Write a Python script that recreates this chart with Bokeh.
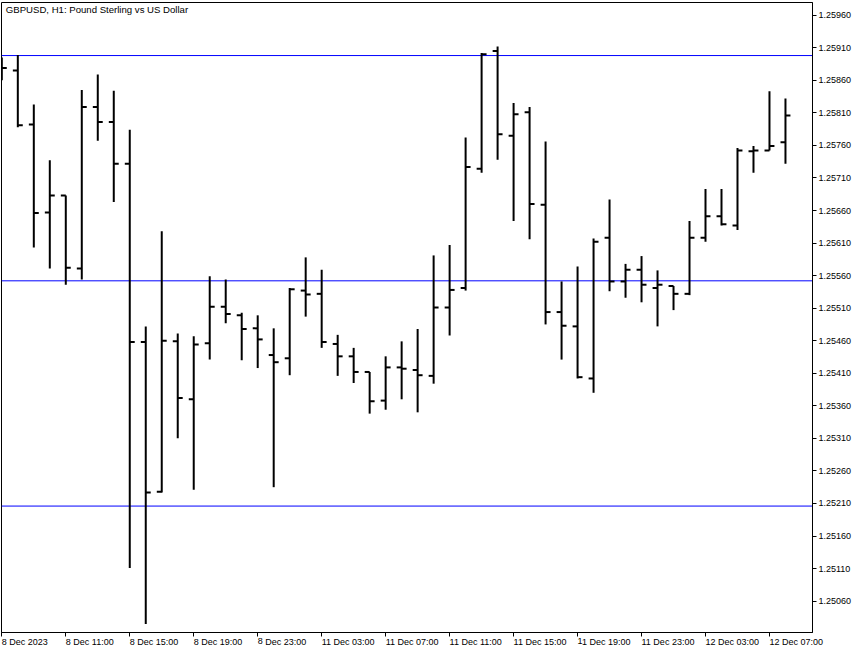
from bokeh.plotting import figure
from bokeh.models import Range1d, FixedTicker, PrintfTickFormatter, Span, Label
from bokeh.embed import file_html
from bokeh.resources import INLINE

# ---- data (GBPUSD H1) ----
opens = [1.25880, 1.25875, 1.25792, 1.25657, 1.25683, 1.25571, 1.25819, 1.25796, 1.25732, 1.25458,
         1.25228, 1.25459, 1.25370, 1.25456, 1.25512, 1.25499, 1.25479, 1.25438, 1.25433, 1.25537,
         1.25532, 1.25455, 1.25436, 1.25412, 1.25368, 1.25419, 1.25415, 1.25406, 1.25511, 1.25541,
         1.25724, 1.25905, 1.25775, 1.25811, 1.25669, 1.25504, 1.25482, 1.25402, 1.25618, 1.25551,
         1.25569, 1.25541, 1.25544, 1.25532, 1.25618, 1.25651, 1.25637, 1.25751, 1.25752, 1.25765]
highs = [1.25895, 1.25899, 1.25823, 1.25737, 1.25683, 1.25845, 1.25869, 1.25844, 1.25784, 1.25482,
         1.25628, 1.25471, 1.25467, 1.25559, 1.25554, 1.25503, 1.25499, 1.25479, 1.25541, 1.25588,
         1.25569, 1.25469, 1.25449, 1.25412, 1.25436, 1.25459, 1.25478, 1.25591, 1.25607, 1.25772,
         1.25902, 1.25912, 1.25825, 1.25819, 1.25766, 1.25551, 1.25574, 1.25617, 1.25677, 1.25578,
         1.25590, 1.25568, 1.25544, 1.25644, 1.25693, 1.25693, 1.25756, 1.25759, 1.25843, 1.25832]
lows = [1.25860, 1.25788, 1.25603, 1.25571, 1.25546, 1.25554, 1.25767, 1.25673, 1.25111, 1.25025,
        1.25227, 1.25310, 1.25231, 1.25431, 1.25487, 1.25430, 1.25418, 1.25235, 1.25407, 1.25497,
        1.25449, 1.25406, 1.25395, 1.25348, 1.25354, 1.25370, 1.25350, 1.25394, 1.25468, 1.25537,
        1.25718, 1.25738, 1.25644, 1.25616, 1.25485, 1.25431, 1.25402, 1.25380, 1.25536, 1.25526,
        1.25519, 1.25482, 1.25507, 1.25530, 1.25612, 1.25637, 1.25630, 1.25718, 1.25752, 1.25732]
closes = [1.25879, 1.25791, 1.25656, 1.25683, 1.25572, 1.25819, 1.25796, 1.25732, 1.25458, 1.25227,
          1.25460, 1.25372, 1.25454, 1.25512, 1.25501, 1.25478, 1.25462, 1.25427, 1.25539, 1.25531,
          1.25458, 1.25436, 1.25412, 1.25367, 1.25419, 1.25417, 1.25407, 1.25511, 1.25538, 1.25727,
          1.25900, 1.25777, 1.25808, 1.25670, 1.25504, 1.25483, 1.25404, 1.25612, 1.25551, 1.25569,
          1.25546, 1.25546, 1.25532, 1.25618, 1.25651, 1.25639, 1.25752, 1.25752, 1.25759, 1.25806]

channel_levels = [1.25898, 1.25552, 1.25206]

x_tick_positions = [0, 4, 8, 12, 16, 20, 24, 28, 32, 36, 40, 44, 48]
x_tick_labels = ["8 Dec 2023", "8 Dec 11:00", "8 Dec 15:00", "8 Dec 19:00", "8 Dec 23:00",
                 "11 Dec 03:00", "11 Dec 07:00", "11 Dec 11:00", "11 Dec 15:00", "11 Dec 19:00",
                 "11 Dec 23:00", "12 Dec 03:00", "12 Dec 07:00"]
y_ticks = [1.25060, 1.25110, 1.25160, 1.25210, 1.25260, 1.25310, 1.25360, 1.25410, 1.25460,
           1.25510, 1.25560, 1.25610, 1.25660, 1.25710, 1.25760, 1.25810, 1.25860, 1.25910, 1.25960]

title_text = "GBPUSD, H1:  Pound Sterling vs US Dollar"

# ---- figure ----
FONT = "Liberation Sans"
FH = 630
x0, x1 = -0.02, 50.69
y0, y1 = 1.250118, 1.259795
PX = FH / (y1 - y0)  # pixels per price unit

p = figure(frame_width=811, frame_height=FH,
           x_range=Range1d(x0, x1), y_range=Range1d(y0, y1),
           y_axis_location="right",
           output_backend="svg", toolbar_location=None,
           min_border_left=1, min_border_top=2, min_border_right=43, min_border_bottom=18,
           background_fill_color="white", border_fill_color="white",
           outline_line_color="black", outline_line_width=1)
p.grid.visible = False

xa = p.xaxis[0]
xa.ticker = FixedTicker(ticks=x_tick_positions)
xa.major_label_overrides = {t: lab for t, lab in zip(x_tick_positions, x_tick_labels)}
xa.major_label_orientation = -0.0001
xa.major_label_text_font = FONT
xa.major_label_text_font_size = "9px"
xa.major_label_text_color = "black"
xa.major_label_standoff = 5
xa.major_tick_out = 4
xa.major_tick_in = 0
xa.minor_tick_out = 0
xa.minor_tick_in = 0
xa.axis_line_color = "black"
xa.major_tick_line_color = "black"

ya = p.yaxis[0]
ya.ticker = FixedTicker(ticks=y_ticks)
ya.formatter = PrintfTickFormatter(format="%.5f")
ya.major_label_text_font = FONT
ya.major_label_text_font_size = "9px"
ya.major_label_text_color = "black"
ya.major_label_standoff = 2
ya.major_tick_out = 4
ya.major_tick_in = 0
ya.minor_tick_out = 0
ya.minor_tick_in = 0
ya.axis_line_color = "black"
ya.major_tick_line_color = "black"

for lvl in channel_levels:
    p.add_layout(Span(location=lvl, dimension="width", line_color="#0000ff",
                      line_width=1, level="underlay"))

idx = list(range(len(opens)))
tick_len = 0.31
p.segment(x0=idx, y0=lows, x1=idx, y1=highs, line_color="black", line_width=2, line_cap="butt")
p.segment(x0=[i - tick_len for i in idx], y0=opens, x1=idx, y1=opens,
          line_color="black", line_width=2, line_cap="butt")
p.segment(x0=idx, y0=closes, x1=[i + tick_len for i in idx], y1=closes,
          line_color="black", line_width=2, line_cap="butt")

p.add_layout(Label(x=x0 + 4.3 / 16, y=y1 - 6.8 / PX, text=title_text,
                   text_font=FONT, text_font_size="9.6px", text_color="black",
                   text_baseline="middle", text_align="left"))

open("out.html", "w").write(file_html(p, INLINE))
